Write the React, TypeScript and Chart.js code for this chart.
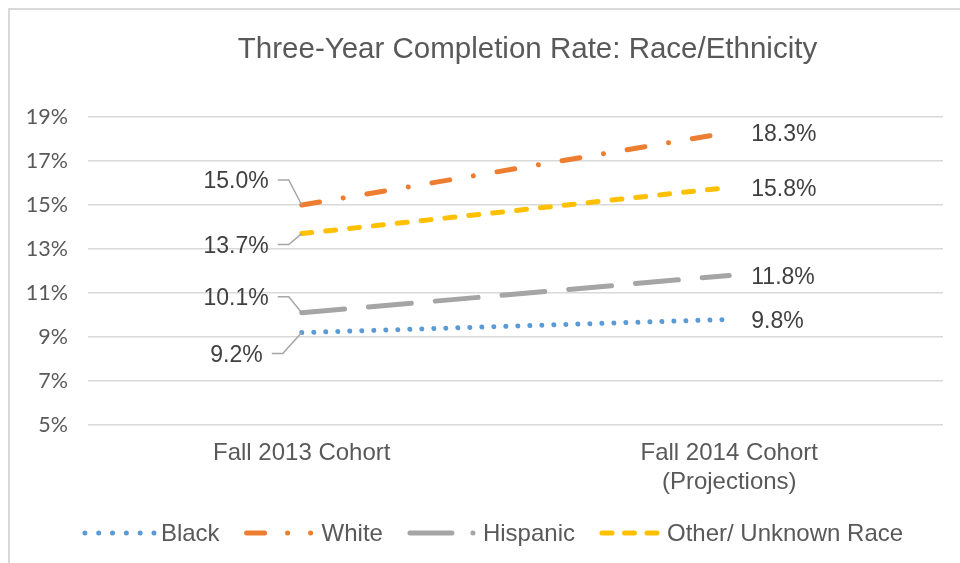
import { useEffect, useRef } from "react";
import { Chart, registerables } from "chart.js";

Chart.register(...registerables);

// ---------- data ----------
const categories: string[][] = [["Fall 2013 Cohort"], ["Fall 2014 Cohort", "(Projections)"]];
const seriesNames = ["Black", "White", "Hispanic", "Other/ Unknown Race"];
const blackValues = [9.2, 9.8];
const whiteValues = [15.0, 18.3];
const hispanicValues = [10.1, 11.8];
const otherValues = [13.7, 15.8];
const yMin = 5;
const yMax = 19;
const yStep = 2;
const chartTitle = "Three-Year Completion Rate: Race/Ethnicity";

// ---------- styles ----------
const seriesColors = ["#5B9BD5", "#ED7D31", "#A5A5A5", "#FFC000"];
const seriesDash: number[][] = [
  [0.01, 12],
  [18, 24, 0.01, 24],
  [43, 24],
  [10, 14],
];
// legend sample patterns and lengths
const legendDash: number[][] = [
  [0.01, 13.8],
  [18, 23, 0.01, 23, 0.01, 60],
  [42, 21, 0.01, 60],
  [10, 12.5],
];
const legendSampleW = [73, 72, 70, 62];
// first-point label placement (offset of text right edge / centre from the point)
const leftLabelPlacement = [
  { dx: -39, dy: 22 },
  { dx: -33, dy: -24 },
  { dx: -33, dy: -15 },
  { dx: -33, dy: 12 },
];

const FONT = '"Liberation Sans", Arial, sans-serif';
const TEXT = "#595959";

const labelsPlugin = {
  id: "customDecor",
  afterDatasetsDraw(chart: any) {
    const ctx = chart.ctx as CanvasRenderingContext2D;
    ctx.save();
    ctx.font = `23px ${FONT}`;
    ctx.fillStyle = "#404040";
    ctx.textBaseline = "middle";
    chart.data.datasets.forEach((ds: any, i: number) => {
      const meta = chart.getDatasetMeta(i);
      const p0 = meta.data[0];
      const p1 = meta.data[1];
      const fmt = (v: number) => v.toFixed(1) + "%";
      // left label with leader line
      const pl = leftLabelPlacement[i];
      const tr = p0.x + pl.dx;
      const ty = p0.y + pl.dy;
      ctx.textAlign = "right";
      ctx.fillText(fmt(ds.data[0]), tr, ty + 1);
      ctx.strokeStyle = "#A6A6A6";
      ctx.lineWidth = 1.5;
      ctx.setLineDash([]);
      ctx.beginPath();
      ctx.moveTo(tr + 9, ty - 1);
      ctx.lineTo(tr + 20, ty - 1);
      ctx.lineTo(p0.x, p0.y);
      ctx.stroke();
      // right label
      ctx.textAlign = "left";
      ctx.fillText(fmt(ds.data[1]), p1.x + 22, p1.y + 2);
    });
    ctx.restore();
  },
  afterDraw(chart: any) {
    const ctx = chart.ctx as CanvasRenderingContext2D;
    const area = chart.chartArea;
    ctx.save();
    // title
    ctx.font = `29.5px ${FONT}`;
    ctx.fillStyle = TEXT;
    ctx.textAlign = "center";
    ctx.textBaseline = "middle";
    ctx.fillText(chartTitle, (area.left + area.right) / 2 + 12, 40);

    // legend
    ctx.font = `24px ${FONT}`;
    const gapText = 6;
    const gapItem = 24;
    const widths = seriesNames.map((n) => ctx.measureText(n).width);
    const total =
      widths.reduce((a, b) => a + b, 0) +
      legendSampleW.reduce((a, b) => a + b, 0) +
      seriesNames.length * gapText +
      (seriesNames.length - 1) * gapItem;
    let x = chart.width / 2 - total / 2 - 3;
    const y = 523;
    seriesNames.forEach((name, i) => {
      const sw = legendSampleW[i];
      ctx.strokeStyle = seriesColors[i];
      ctx.lineWidth = 5;
      ctx.lineCap = "round";
      ctx.setLineDash(legendDash[i]);
      ctx.beginPath();
      ctx.moveTo(x + 3, y);
      ctx.lineTo(x + sw, y);
      ctx.stroke();
      ctx.setLineDash([]);
      ctx.fillStyle = TEXT;
      ctx.textAlign = "left";
      ctx.fillText(name, x + sw + gapText, y + 1);
      x += sw + gapText + widths[i] + gapItem;
    });
    ctx.restore();
  },
};

export default function App() {
  const canvasRef = useRef<HTMLCanvasElement | null>(null);

  useEffect(() => {
    if (!canvasRef.current) return;
    const valuesList = [blackValues, whiteValues, hispanicValues, otherValues];
    const chart = new Chart(canvasRef.current, {
      type: "line",
      data: {
        labels: categories,
        datasets: seriesNames.map((name, i) => ({
          label: name,
          data: valuesList[i],
          borderColor: seriesColors[i],
          backgroundColor: seriesColors[i],
          borderWidth: 5,
          borderDash: seriesDash[i],
          borderCapStyle: "round" as const,
          pointRadius: 0,
          pointHoverRadius: 0,
          fill: false,
          tension: 0,
        })),
      },
      options: {
        responsive: false,
        animation: false,
        events: [],
        layout: { padding: { left: 0, right: 38, top: 107, bottom: 78 } },
        plugins: {
          legend: { display: false },
          title: { display: false },
          tooltip: { enabled: false },
        },
        scales: {
          x: {
            offset: true,
            grid: { display: false, drawTicks: false },
            border: { display: false },
            ticks: {
              padding: 14,
              color: TEXT,
              font: { family: FONT, size: 24, lineHeight: 1.2 },
              maxRotation: 0,
              autoSkip: false,
            },
            afterFit: (s: any) => {
              s.height = 73;
            },
          },
          y: {
            min: yMin,
            max: yMax,
            grid: { color: "#D9D9D9", lineWidth: 1.5, drawTicks: false },
            border: { display: false },
            ticks: {
              stepSize: yStep,
              padding: 20,
              color: TEXT,
              font: { family: "Lato, 'Open Sans', sans-serif", size: 21.5 },
              callback: (v: any) => v + "%",
            },
            afterFit: (s: any) => {
              s.width = 78;
            },
          },
        },
      },
      plugins: [labelsPlugin],
    });
    return () => chart.destroy();
  }, []);

  return (
    <div
      style={{
        position: "fixed",
        left: 8,
        top: 8,
        width: 952,
        height: 555,
        overflow: "hidden",
        background: "#fff",
      }}
    >
      <div
        style={{
          width: 975,
          height: 570,
          border: "2px solid #D9D9D9",
          boxSizing: "border-box",
          background: "#fff",
        }}
      >
        <canvas ref={canvasRef} width={971} height={566} style={{ display: "block" }} />
      </div>
    </div>
  );
}
